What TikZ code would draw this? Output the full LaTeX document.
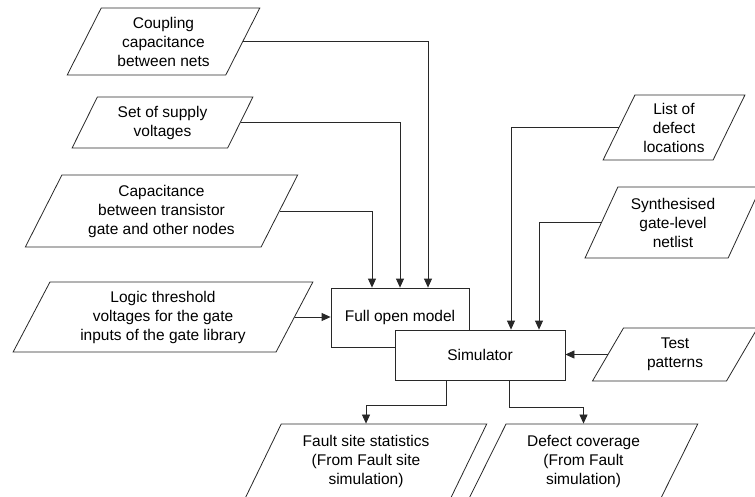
\documentclass[tikz,border=0pt]{standalone}
\usepackage{fontspec}
\setmainfont{Liberation Sans}
\usepackage{tikz}
\usetikzlibrary{positioning,arrows.meta,shapes.geometric}
\definecolor{linegray}{RGB}{40,40,40}
\tikzset{
  datanode/.style  = {trapezium, trapezium left angle=63.4, trapezium right angle=116.6,
                      trapezium stretches=true, inner sep=1pt, draw=linegray, fill=white,
                      line width=0.8pt, align=center,
                      font=\fontsize{15.5}{19}\selectfont},
  procnode/.style  = {rectangle, inner sep=1pt, draw=linegray, fill=white,
                      line width=0.8pt, font=\fontsize{15.5}{19}\selectfont},
  flowedge/.style  = {-{Triangle[length=9pt,width=8pt]}, line width=0.8pt, linegray}
}

\begin{document}
\begin{tikzpicture}[x=1pt, y=-1pt]
  \useasboundingbox (0,0) rectangle (755,496);
  % Model inputs
  \node[datanode, minimum width=193pt, minimum height=67pt] (coup) at (163.5,41.5)
       {Coupling\\capacitance\\between nets};
  \node[datanode, minimum width=181pt, minimum height=51pt] (supp) at (162.5,122.5)
       {Set of supply\\voltages};
  \node[datanode, minimum width=273pt, minimum height=72pt] (capa) at (161.5,211)
       {Capacitance\\between transistor\\gate and other nodes};
  \node[datanode, minimum width=300pt, minimum height=70pt] (thre) at (163,317)
       {Logic threshold\\voltages for the gate\\inputs of the gate library};
  % Simulator inputs
  \node[datanode, minimum width=142pt, minimum height=65pt] (defl) at (674,127.5)
       {List of\\defect\\locations};
  \node[datanode, minimum width=176pt, minimum height=71pt] (netl) at (673,222.5)
       {Synthesised\\gate-level\\netlist};
  \node[datanode, minimum width=166pt, minimum height=53pt] (patt) at (675,354.5)
       {Test\\patterns};
  % Processes
  \node[procnode, minimum width=138pt, minimum height=59pt] (fom) at (400,317.5)
       {Full open model};
  \node[procnode, minimum width=170pt, minimum height=50pt] (sim) at (480,355)
       {Simulator};
  % Outputs
  \node[datanode, minimum width=242pt, minimum height=74pt] (fsst) at (366,461)
       {Fault site statistics\\(From Fault site\\simulation)};
  \node[datanode, minimum width=229pt, minimum height=74pt] (dcov) at (583.5,461)
       {Defect coverage\\(From Fault\\simulation)};
  % Edges
  \draw[flowedge] (coup.east) -| ([xshift=28pt]fom.north);
  \draw[flowedge] (supp.east) -| (fom.north);
  \draw[flowedge] (capa.east) -| ([xshift=-28pt]fom.north);
  \draw[flowedge] (thre.east) -- (thre.east -| fom.west);
  \draw[flowedge] (defl.west) -| ([xshift=31pt]sim.north);
  \draw[flowedge] (netl.west) -| ([xshift=59pt]sim.north);
  \draw[flowedge] (patt.west) -- (patt.west -| sim.east);
  \draw[flowedge] ([xshift=-34pt]sim.south) -- ++(0,25) -| (fsst.north);
  \draw[flowedge] ([xshift=29pt]sim.south) -- ++(0,27) -| (dcov.north);
\end{tikzpicture}
\end{document}
